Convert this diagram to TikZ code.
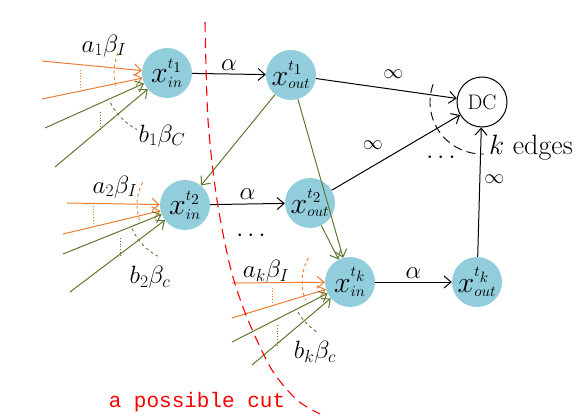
\documentclass[tikz,border=0pt]{standalone}
\usepackage{fix-cm}
\usepackage{amsmath,amssymb}
\usepackage{fontspec}
\newfontfamily\cutfont{Liberation Mono}
\usetikzlibrary{arrows.meta}
\definecolor{nodeblue}{RGB}{146,205,220}
\definecolor{feedorange}{RGB}{237,125,49}
\definecolor{feedgreen}{RGB}{94,120,50}
\newcommand{\vtx}[2]{\scalebox{1.5}{$x^{\scriptscriptstyle #1}_{\scriptscriptstyle #2}$}}

\begin{document}
\begin{tikzpicture}[x=1pt,y=-1pt,
  every node/.style={inner sep=0pt},
  vert/.style={circle,fill=nodeblue,minimum size=50pt,font=\fontsize{20}{22}\selectfont},
  sink/.style={circle,draw,line width=1pt,minimum size=50pt,font=\fontsize{21}{23}\selectfont},
  flow/.style={-{Straight Barb[length=7pt,width=12pt]},line width=1pt},
  lbl/.style={font=\fontsize{25}{27}\selectfont},
  inflbl/.style={font=\fontsize{20}{22}\selectfont}]
\useasboundingbox (0,0) rectangle (582,420);

% vertices
\node[vert] (in1) at (167,73) {\vtx{t_1}{in}};
\node[vert] (out1) at (291,75) {\vtx{t_1}{out}};
\node[vert] (in2) at (185,205) {\vtx{t_2}{in}};
\node[vert] (out2) at (310,203) {\vtx{t_2}{out}};
\node[vert] (ink) at (350,282) {\vtx{t_k}{in}};
\node[vert] (outk) at (477,282) {\vtx{t_k}{out}};
\node[sink] (dc) at (482,102) {DC};

% alpha edges
\draw[flow] (in1) -- (out1) node[lbl,midway,above=3pt] (al1) {$\alpha$};
\draw[flow] (in2) -- (out2) node[lbl,midway,above=4pt] (al2) {$\alpha$};
\draw[flow] (ink) -- (outk) node[lbl,midway,above=3pt] (alk) {$\alpha$};

% infinite edges into DC
\draw[flow] (out1) -- (dc) node[inflbl,pos=0.55,above=10pt] (inf1) {$\infty$};
\draw[flow] (out2) -- (dc) node[inflbl,pos=0.45,above left=6pt] (inf2) {$\infty$};
\draw[flow] (outk) -- (dc) node[inflbl,pos=0.6,right=4pt] (infk) {$\infty$};
\draw[dashed,line width=0.9pt,dash pattern=on 9pt off 5pt] (dc) ++(160:52pt) arc[start angle=160,end angle=272,radius=52pt];
\node[font=\fontsize{28}{30}\selectfont,anchor=west] (kedges) at (489,148) {$k$ edges};
\node[lbl] (dots1) at (443,158) {$\cdots$};

% edges between time slots
\draw[flow,feedgreen] (out1) -- (in2);
\draw[flow,feedgreen] (out1) -- (ink);
\draw[flow,feedgreen] (out2) -- (ink);
\node[lbl] (dots2) at (253,236) {$\cdots$};

% feeding edges of t_1
\coordinate (p1a) at (42,61);
\coordinate (p1b) at (42,99);
\coordinate (p1c) at (45,128);
\coordinate (p1d) at (55,167);
\draw[flow,feedorange] (p1a) -- (in1);
\draw[flow,feedorange] (p1b) -- (in1);
\draw[flow,feedgreen] (p1c) -- (in1);
\draw[flow,feedgreen] (p1d) -- (in1);
\draw[feedorange,dotted,line width=0.8pt] (80,70) -- (80,88);
\draw[feedgreen,dotted,line width=0.8pt] (100,112) -- (100,130);
\draw[feedorange,dashed,line width=0.9pt] (in1.center) ++(158:53pt) arc[start angle=158,end angle=197,radius=53pt];
\draw[feedgreen,dashed,line width=0.9pt] (in1.center) ++(208:64pt) arc[start angle=208,end angle=242,radius=64pt];
\node[lbl] (lab1a) at (104,46) {$a_1\beta_I$};
\node[lbl] (lab1b) at (162,136) {$b_1\beta_C$};

% feeding edges of t_2
\coordinate (p2a) at (67,203);
\coordinate (p2b) at (63,234);
\coordinate (p2c) at (63,254);
\coordinate (p2d) at (70,292);
\draw[flow,feedorange] (p2a) -- (in2);
\draw[flow,feedorange] (p2b) -- (in2);
\draw[flow,feedgreen] (p2c) -- (in2);
\draw[flow,feedgreen] (p2d) -- (in2);
\draw[feedorange,dotted,line width=0.8pt] (93,203) -- (93,223);
\draw[feedgreen,dotted,line width=0.8pt] (120,238) -- (120,257);
\draw[feedorange,dashed,line width=0.9pt] (in2.center) ++(152:48pt) arc[start angle=152,end angle=200,radius=48pt];
\draw[feedgreen,dashed,line width=0.9pt] (in2.center) ++(204:58pt) arc[start angle=204,end angle=242,radius=58pt];
\node[lbl] (lab2a) at (115,187) {$a_2\beta_I$};
\node[lbl] (lab2b) at (150,277) {$b_2\beta_c$};

% feeding edges of t_k
\coordinate (pka) at (232,283);
\coordinate (pkb) at (232,318);
\coordinate (pkc) at (232,342);
\coordinate (pkd) at (252,365);
\draw[flow,feedorange] (pka) -- (ink);
\draw[flow,feedorange] (pkb) -- (ink);
\draw[flow,feedgreen] (pkc) -- (ink);
\draw[flow,feedgreen] (pkd) -- (ink);
\draw[feedorange,dotted,line width=0.8pt] (272,288) -- (272,307);
\draw[feedgreen,dotted,line width=0.8pt] (277,325) -- (277,345);
\draw[feedorange,dashed,line width=0.9pt] (ink.center) ++(150:48pt) arc[start angle=150,end angle=202,radius=48pt];
\draw[feedgreen,dashed,line width=0.9pt] (ink.center) ++(210:60pt) arc[start angle=210,end angle=236,radius=60pt];
\node[lbl] (labka) at (266,271) {$a_k\beta_I$};
\node[lbl] (labkb) at (315,352) {$b_k\beta_c$};

% the cut
\draw[red,line width=1.1pt,dash pattern=on 10pt off 6pt] plot[smooth] coordinates {(205,22) (208,120) (217,200) (231,270) (248,320) (272,370) (297,400) (320,414)};
\node[red,font=\cutfont\fontsize{21}{23}\selectfont] (cut) at (197,402) {a possible cut};
\end{tikzpicture}
\end{document}
